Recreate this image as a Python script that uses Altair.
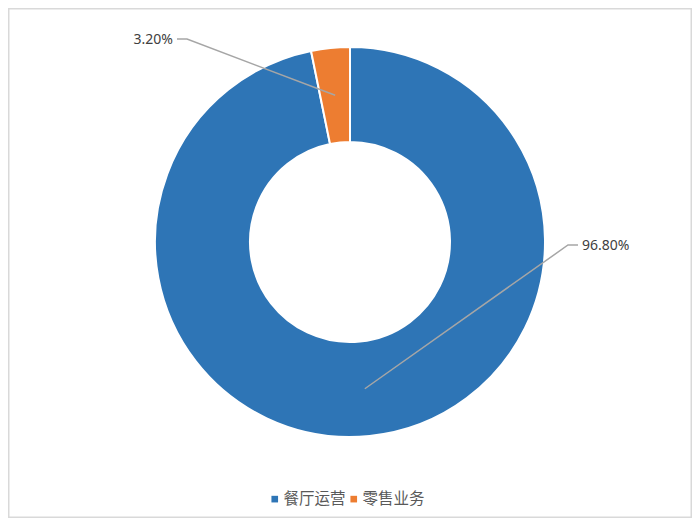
import altair as alt
import numpy as np
import pandas as pd

# ---- data ----
categories = ["餐厅运营", "零售业务"]
values = [96.8, 3.2]
label_texts = ["96.80%", "3.20%"]
colors = ["#2E75B6", "#ED7D31"]

# ---- layout (pixel positions in chart coordinates) ----
W, H = 684, 510
CX, CY = 342, 234
R_OUT, R_IN = 195, 100
label_anchor_x = [570, 169]   # end of the horizontal leader segment
label_anchor_y = [237, 31]
label_side = [1, -1]          # 1 = label to the right, -1 = to the left
ELBOW = 10

df = pd.DataFrame({"cat": categories, "val": values, "idx": list(range(len(categories)))})

# leader lines: start at mid-ring of each slice, go to elbow, then horizontal
total = sum(values)
cum = np.cumsum([0] + values[:-1])
rows = []
r_mid = (R_OUT + R_IN) / 2
for i, c in enumerate(categories):
    mid = (cum[i] + values[i] / 2) / total * 2 * np.pi
    sx = CX + r_mid * np.sin(mid)
    sy = CY - r_mid * np.cos(mid)
    ex, ey = label_anchor_x[i], label_anchor_y[i]
    bx = ex - label_side[i] * ELBOW
    rows += [
        {"cat": c, "o": 0, "x": sx, "y": sy},
        {"cat": c, "o": 1, "x": bx, "y": ey},
        {"cat": c, "o": 2, "x": ex, "y": ey},
    ]
ldf = pd.DataFrame(rows)

tdf = pd.DataFrame({
    "cat": categories,
    "label": label_texts,
    "x": [label_anchor_x[i] + label_side[i] * 4 for i in range(len(categories))],
    "y": [label_anchor_y[i] + 1 for i in range(len(categories))],
    "side": label_side,
})

arc = alt.Chart(df).mark_arc(
    outerRadius=R_OUT, innerRadius=R_IN, stroke="white", strokeWidth=2
).encode(
    theta=alt.Theta("val:Q", stack=True),
    order=alt.Order("idx:Q"),
    color=alt.Color(
        "cat:N",
        scale=alt.Scale(domain=categories, range=colors),
        legend=alt.Legend(
            title=None,
            orient="none",
            legendX=259,
            legendY=483,
            direction="horizontal",
            symbolType="square",
            symbolSize=44,
            symbolStrokeWidth=0,
            labelFont="Noto Sans CJK SC",
            labelFontSize=15.5,
            labelColor="#595959",
            labelOffset=1,
            columnPadding=0,
            padding=0,
        ),
    ),
    x=alt.value(CX),
    y=alt.value(CY),
)

lines = alt.Chart(ldf).mark_line(color="#A6A6A6", strokeWidth=1.5).encode(
    x=alt.X("x:Q", scale=None, axis=None),
    y=alt.Y("y:Q", scale=None, axis=None),
    detail="cat:N",
    order="o:Q",
)

text_right = alt.Chart(tdf).transform_filter("datum.side > 0").mark_text(
    align="left", baseline="middle", font="Noto Sans", fontSize=14, color="#404040"
).encode(
    x=alt.X("x:Q", scale=None, axis=None),
    y=alt.Y("y:Q", scale=None, axis=None),
    text="label:N",
)

text_left = alt.Chart(tdf).transform_filter("datum.side < 0").mark_text(
    align="right", baseline="middle", font="Noto Sans", fontSize=14, color="#404040"
).encode(
    x=alt.X("x:Q", scale=None, axis=None),
    y=alt.Y("y:Q", scale=None, axis=None),
    text="label:N",
)

border = alt.Chart(pd.DataFrame({"a": [0]})).mark_rect(
    filled=False, stroke="#D9D9D9", strokeWidth=1.5
).encode(
    x=alt.value(0.75), x2=alt.value(W - 0.75),
    y=alt.value(0.75), y2=alt.value(H - 0.75),
)

chart = alt.layer(border, arc, lines, text_right, text_left).properties(
    width=W, height=H, padding=0, background="white"
).configure_view(stroke=None)

chart.save("out.html", embed_options={"renderer": "svg", "actions": False})
